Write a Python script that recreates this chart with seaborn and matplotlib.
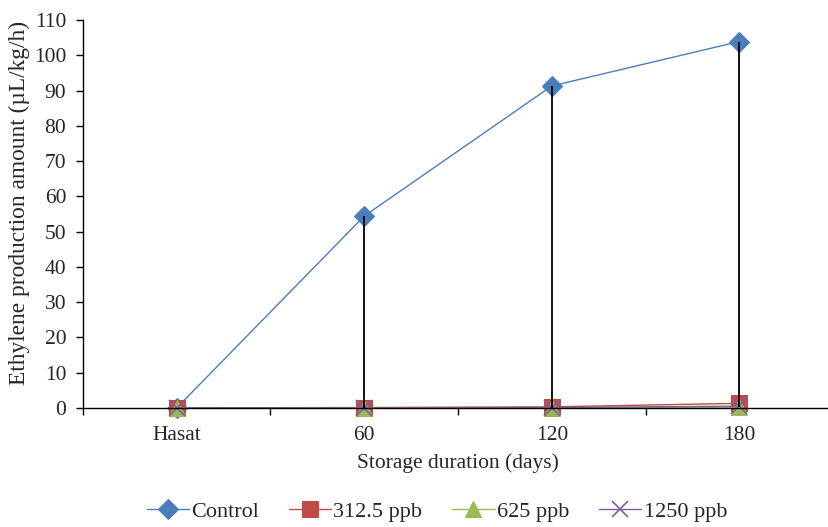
import pandas as pd
import seaborn as sns
import matplotlib.pyplot as plt

categories = ["Hasat", "60", "120", "180"]
control = [0.0, 54.4, 91.3, 103.9]
ppb_312 = [0.0, 0.1, 0.3, 1.3]
ppb_625 = [0.0, 0.0, 0.0, 0.2]
ppb_1250 = [0.0, 0.0, 0.1, 0.5]

series_names = ["Control", "312.5 ppb", "625 ppb", "1250 ppb"]
series_values = [control, ppb_312, ppb_625, ppb_1250]
colors = ["#4A7EBB", "#BE4B48", "#98B954", "#7D60A0"]
markers = ["D", "s", "^", "x"]
msizes = [10.5, 11, 11, 11]

sns.set_style("white")
plt.rcParams["font.family"] = ["Liberation Serif", "DejaVu Serif"]

fig = plt.figure(figsize=(8.29, 5.27), dpi=100)
ax = fig.add_axes([0.1, 0.226, 0.905, 0.736])

for name, vals, c, m, ms in zip(series_names, series_values, colors, markers, msizes):
    df = pd.DataFrame({"pos": range(len(categories)), "value": vals})
    mew = 1.2 if m == "x" else 0.8
    sns.lineplot(data=df, x="pos", y="value", color=c, marker=m, linewidth=1,
                 markersize=ms, markeredgecolor=c, markeredgewidth=mew,
                 ax=ax, label=name, legend=False, clip_on=False)

# high-low lines between the series at each category
highs = [max(v) for v in zip(*series_values)]
lows = [min(v) for v in zip(*series_values)]
ax.vlines(range(len(categories)), lows, highs, colors="black", linewidth=1.3, zorder=5)

ax.set_xlim(-0.5, 3.5)
ax.set_ylim(0, 110)
ax.set_yticks(range(0, 111, 10))
ax.set_xticks(range(len(categories)))
ax.set_xticklabels(categories)
ax.set_xticks([-0.5, 0.5, 1.5, 2.5, 3.5], minor=True)
ax.tick_params(axis="x", which="major", length=0, labelsize=15.5, pad=13)
ax.tick_params(axis="x", which="minor", length=5, direction="out", color="black", width=1, bottom=True)
ax.tick_params(axis="y", length=5, direction="out", color="black", width=1, labelsize=15.5,
               left=True, pad=7)
ax.set_xlabel("Storage duration (days)", fontsize=15.5, labelpad=6)
ax.set_ylabel("Ethylene production amount (µL/kg/h)", fontsize=16.8)
ax.yaxis.set_label_coords(-0.071, 0.528)

sns.despine(ax=ax)
for side in ["left", "bottom"]:
    ax.spines[side].set_color("black")
    ax.spines[side].set_linewidth(1)

handles, labels = ax.get_legend_handles_labels()
fig.legend(handles=handles, labels=labels, loc="lower center", ncol=4, frameon=False,
           fontsize=16, bbox_to_anchor=(0.527, -0.028), handlelength=1.9,
           handletextpad=0.1, columnspacing=1.35)

fig.savefig("out.png", dpi=100)
